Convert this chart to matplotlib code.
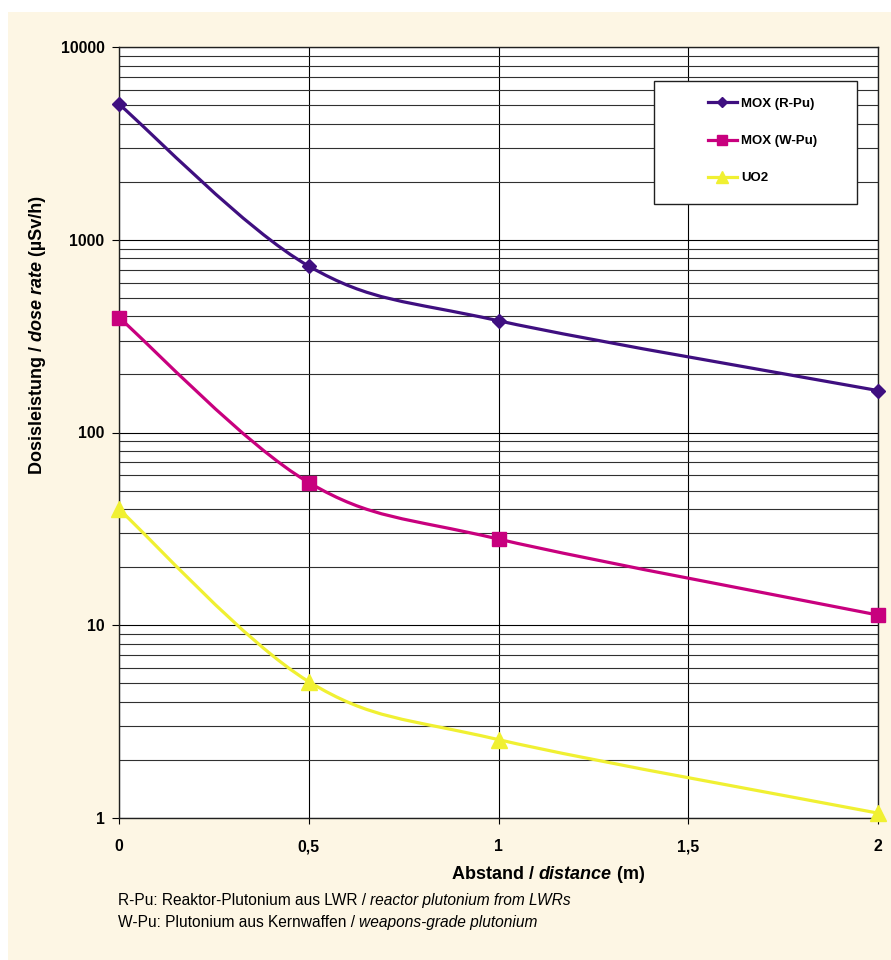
import numpy as np
import matplotlib
matplotlib.use('Agg')
import matplotlib.pyplot as plt
from matplotlib.path import Path
from matplotlib.patches import PathPatch, Rectangle
from matplotlib.lines import Line2D
from matplotlib.font_manager import FontProperties
from matplotlib.transforms import IdentityTransform

# data
distance = [0, 0.5, 1, 2]
mox_r = [5050, 730, 380, 165]
mox_w = [395, 55, 28, 11.3]
uo2 = [40, 5.1, 2.55, 1.06]

series_names = ['MOX (R-Pu)', 'MOX (W-Pu)', 'UO2']
series_colors = ['#3f0f80', '#c8007e', '#f0f032']
series_markers = ['D', 's', '^']
marker_sizes = [7.5, 10, 12]
legend_marker_sizes = [5.5, 7, 9]

x_ticks = [0, 0.5, 1, 1.5, 2]
x_labels = ['0', '0,5', '1', '1,5', '2']
y_ticks = [1, 10, 100, 1000, 10000]
y_labels = ['1', '10', '100', '1000', '10000']

FONT = 'Liberation Sans'
W, H = 891, 960


def smooth_path(xs, ys):
    # Excel style smoothed line: bezier segments through the points (in log space)
    pts = np.column_stack([xs, np.log10(ys)])
    n = len(pts)
    verts = [pts[0]]
    codes = [Path.MOVETO]
    for i in range(n - 1):
        p0 = pts[max(i - 1, 0)]
        p1 = pts[i]
        p2 = pts[i + 1]
        p3 = pts[min(i + 2, n - 1)]
        verts += [p1 + (p2 - p0) / 6, p2 - (p3 - p1) / 6, p2]
        codes += [Path.CURVE4] * 3
    v = np.array(verts)
    v[:, 1] = 10 ** v[:, 1]
    return Path(v, codes)


def text_width(renderer, s, prop):
    w1 = renderer.get_text_width_height_descent(s + 'I', prop, ismath=False)[0]
    w2 = renderer.get_text_width_height_descent('I', prop, ismath=False)[0]
    return w1 - w2


def mixed_text(fig, renderer, parts, x, y, size, center=False, vertical=False):
    # parts: list of (text, weight, style); x, y in pixels from top-left
    props = [FontProperties(family=FONT, size=size, weight=w, style=st) for _, w, st in parts]
    widths = [text_width(renderer, s, p) for (s, _, _), p in zip(parts, props)]
    total = sum(widths)
    pos = -total / 2 if center else 0
    for (s, _, _), p, wd in zip(parts, props, widths):
        if vertical:
            fig.text(x, H - y + pos, s, fontproperties=p, rotation=90, rotation_mode='anchor',
                     ha='left', va='baseline', transform=IdentityTransform())
        else:
            fig.text(x + pos, H - y, s, fontproperties=p, ha='left', va='baseline',
                     transform=IdentityTransform())
        pos += wd


fig = plt.figure(figsize=(W / 100, H / 100), dpi=100, facecolor='white')
fig.patches.append(Rectangle((8 / W, 0), 1 - 8 / W, (H - 12) / H, transform=fig.transFigure,
                             facecolor='#fdf6e4', edgecolor='none', zorder=-10))

ax = fig.add_axes([119 / W, (H - 818) / H, (878 - 119) / W, (818 - 47) / H])
ax.set_facecolor('white')
ax.set_yscale('log')
ax.set_xlim(0, 2)
ax.set_ylim(1, 10000)

ax.set_xticks(x_ticks)
ax.set_xticklabels(x_labels)
ax.set_yticks(y_ticks)
ax.set_yticklabels(y_labels)
ax.yaxis.set_minor_locator(matplotlib.ticker.LogLocator(base=10, subs=np.arange(2, 10)))
ax.yaxis.set_minor_formatter(matplotlib.ticker.NullFormatter())
ax.tick_params(axis='y', which='major', length=5, width=0.8, pad=5.5, direction='out')
ax.tick_params(axis='y', which='minor', length=0)
ax.tick_params(axis='x', which='major', length=4, width=0.8, pad=20, direction='out')
for lab in ax.get_xticklabels() + ax.get_yticklabels():
    lab.set_fontfamily(FONT)
    lab.set_fontweight('bold')
    lab.set_fontsize(11.3)
for lab in ax.get_xticklabels():
    lab.set_verticalalignment('baseline')

ax.grid(True, which='major', axis='both', color='black', linewidth=0.8)
ax.grid(True, which='minor', axis='y', color='#303030', linewidth=0.8)
ax.set_axisbelow(True)
for sp in ax.spines.values():
    sp.set_color('#202020')
    sp.set_linewidth(1.0)

data = [mox_r, mox_w, uo2]
for vals, col, mk, ms in zip(data, series_colors, series_markers, marker_sizes):
    ax.add_patch(PathPatch(smooth_path(distance, vals), facecolor='none', edgecolor=col,
                           linewidth=2.3, zorder=3, clip_on=False))
    ax.plot(distance, vals, linestyle='none', marker=mk, markersize=ms, color=col,
            markeredgecolor=col, zorder=4, clip_on=False)

# legend box
ax.add_patch(Rectangle(((654 - 119) / (878 - 119), 1 - (204 - 47) / (818 - 47)),
                       (857 - 654) / (878 - 119), (204 - 81) / (818 - 47),
                       transform=ax.transAxes, facecolor='white', edgecolor='#202020',
                       linewidth=1.0, zorder=5))
handles = [Line2D([], [], color=c, marker=m, markersize=s, linewidth=2.3)
           for c, m, s in zip(series_colors, series_markers, legend_marker_sizes)]
leg = ax.legend(handles, series_names, loc='upper left',
                bbox_to_anchor=((701 - 119) / (878 - 119), 1 - (91 - 47) / (818 - 47)),
                frameon=False, handlelength=2.25, handletextpad=0.3, labelspacing=1.9,
                borderpad=0, prop=FontProperties(family=FONT, weight='bold', size=9.5))
leg.set_zorder(6)

fig.canvas.draw()
renderer = fig.canvas.get_renderer()

mixed_text(fig, renderer, [('Abstand / ', 'bold', 'normal'), ('distance', 'bold', 'italic'),
                           (' (m)', 'bold', 'normal')], 548, 879, 13, center=True)
mixed_text(fig, renderer, [('Dosisleistung / ', 'bold', 'normal'), ('dose rate', 'bold', 'italic'),
                           (' (\u00b5Sv/h)', 'bold', 'normal')], 42, 335, 13, center=True,
           vertical=True)
mixed_text(fig, renderer, [('R-Pu: Reaktor-Plutonium aus LWR / ', 'normal', 'normal'),
                           ('reactor plutonium from LWRs', 'normal', 'italic')], 118, 905, 11.2)
mixed_text(fig, renderer, [('W-Pu: Plutonium aus Kernwaffen / ', 'normal', 'normal'),
                           ('weapons-grade plutonium', 'normal', 'italic')], 118, 927, 11.2)

fig.savefig('out.png', dpi=100, facecolor=fig.get_facecolor())
